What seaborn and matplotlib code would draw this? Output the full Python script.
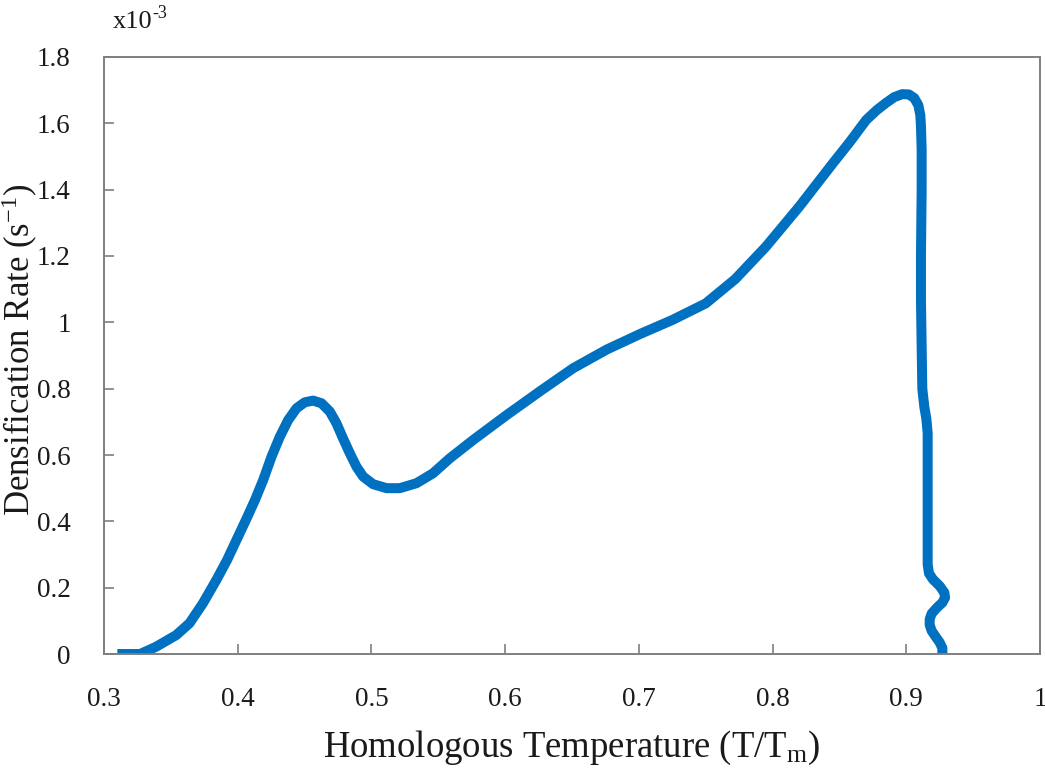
import matplotlib
matplotlib.use("Agg")
import matplotlib.pyplot as plt
import seaborn as sns
import pandas as pd

# Data (y in units of 1e-3 s^-1)
temperature = [0.310, 0.327, 0.339, 0.354, 0.364, 0.374, 0.384, 0.392, 0.4067, 0.4129,
               0.4191, 0.4253, 0.4315, 0.4377, 0.4440, 0.4502, 0.4564, 0.4627, 0.4689, 0.4738,
               0.4788, 0.4839, 0.4888, 0.4938, 0.5013, 0.5113, 0.5212, 0.5337, 0.5461, 0.5586,
               0.576, 0.601, 0.626, 0.651, 0.676, 0.701, 0.725, 0.750, 0.772, 0.795,
               0.820, 0.845, 0.858, 0.870, 0.878, 0.885, 0.891, 0.897, 0.902, 0.906,
               0.909, 0.9105, 0.911, 0.9115, 0.9115, 0.911, 0.911, 0.9116, 0.912, 0.9135,
               0.915, 0.916, 0.916, 0.916, 0.916, 0.917, 0.920, 0.925, 0.9285, 0.929,
               0.927, 0.923, 0.919, 0.9175, 0.9175, 0.919, 0.922, 0.925, 0.927, 0.927]
rate = [0.000, 0.000, 0.022, 0.057, 0.093, 0.153, 0.223, 0.283, 0.409, 0.464,
        0.525, 0.595, 0.655, 0.705, 0.741, 0.759, 0.764, 0.756, 0.731, 0.696,
        0.650, 0.605, 0.565, 0.535, 0.512, 0.500, 0.500, 0.515, 0.545, 0.590,
        0.645, 0.720, 0.792, 0.862, 0.918, 0.965, 1.007, 1.057, 1.130, 1.228,
        1.349, 1.479, 1.545, 1.610, 1.640, 1.662, 1.679, 1.688, 1.687, 1.676,
        1.655, 1.625, 1.590, 1.520, 1.400, 1.200, 1.067, 0.900, 0.800, 0.745,
        0.710, 0.666, 0.500, 0.344, 0.270, 0.243, 0.225, 0.205, 0.185, 0.170,
        0.155, 0.140, 0.122, 0.105, 0.088, 0.070, 0.052, 0.035, 0.018, 0.000]

x_ticks = [0.3, 0.4, 0.5, 0.6, 0.7, 0.8, 0.9, 1.0]
x_tick_labels = ["0.3", "0.4", "0.5", "0.6", "0.7", "0.8", "0.9", "1"]
y_ticks = [0, 0.2, 0.4, 0.6, 0.8, 1.0, 1.2, 1.4, 1.6, 1.8]
y_tick_labels = ["0", "0.2", "0.4", "0.6", "0.8", "1", "1.2", "1.4", "1.6", "1.8"]

df = pd.DataFrame({"T": temperature, "rate": rate})

sns.set_theme(style="white")
plt.rcParams["font.family"] = ["Liberation Serif", "DejaVu Serif"]
plt.rcParams["mathtext.fontset"] = "custom"
plt.rcParams["mathtext.rm"] = "Liberation Serif"
plt.rcParams["mathtext.it"] = "Liberation Serif:italic"

fig = plt.figure(figsize=(10.45, 7.68), dpi=100)
ax = fig.add_axes([0.0995, 0.1484, 0.8957, 0.7774])

sns.lineplot(data=df, x="T", y="rate", sort=False, estimator=None, ax=ax,
             color="#0070C0", linewidth=7.2, solid_joinstyle="round",
             solid_capstyle="butt")

ax.set_xlim(0.3, 1.0)
ax.set_ylim(0, 1.8)
ax.set_xticks(x_ticks)
ax.set_xticklabels(x_tick_labels)
ax.set_yticks(y_ticks)
ax.set_yticklabels(y_tick_labels)

spine_color = "#7f7f7f"
for s in ax.spines.values():
    s.set_color(spine_color)
    s.set_linewidth(1.4)

ax.tick_params(axis="both", direction="in", length=7, width=1.2, color=spine_color,
               labelsize=19.5, labelcolor="#1a1a1a", left=True, bottom=True)
ax.tick_params(axis="x", pad=24)
ax.tick_params(axis="y", pad=24)

ax.set_xlabel("Homologous Temperature (T/T$_{\\rm m}$)", fontsize=26.5, color="#1a1a1a",
              labelpad=12)
ax.set_ylabel("Densification Rate (s$^{-1}$)", fontsize=25, color="#1a1a1a")
ax.yaxis.label.set_va("center")
ax.yaxis.set_label_coords(-0.090, 0.51)

fig.text(0.108, 0.971, "x10", fontsize=19, color="#1a1a1a", ha="left", va="center")
fig.text(0.1455, 0.982, "-3", fontsize=13, color="#1a1a1a", ha="left", va="center")

fig.savefig("out.png", dpi=100, facecolor="white")
